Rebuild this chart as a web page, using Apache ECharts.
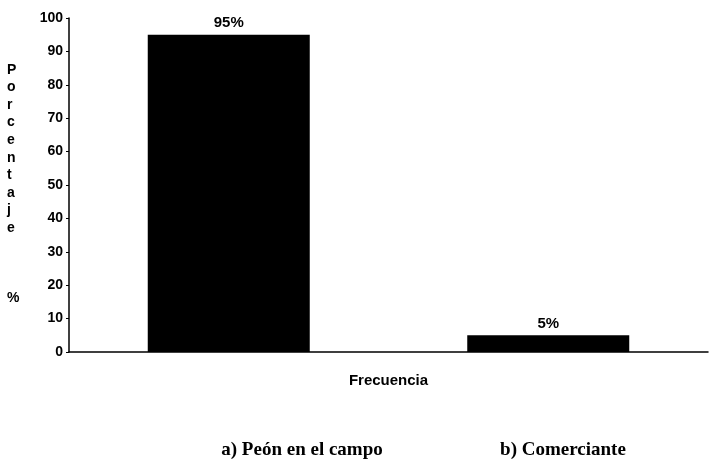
<!DOCTYPE html>
<html>
<head>
<meta charset="utf-8">
<script src="https://cdn.jsdelivr.net/npm/echarts@6/dist/echarts.min.js"></script>
<style>html,body{margin:0;padding:0;background:#fff}#c{width:709px;height:465px}</style>
</head>
<body>
<div id="c"></div>
<script>
const categories = ['a) Peón en el campo', 'b) Comerciante'];
const values = [95, 5];
const valueLabels = ['95%', '5%'];
const yTicks = [0, 10, 20, 30, 40, 50, 60, 70, 80, 90, 100];
const yName = 'Porcentaje';
const yUnit = '%';
const xName = 'Frecuencia';

const chart = echarts.init(document.getElementById('c'));
const catLabelX = [302, 563];
chart.setOption({
  animation: false,
  backgroundColor: '#fff',
  grid: { left: 69, right: 1, top: 18, bottom: 113, containLabel: false },
  xAxis: {
    type: 'category',
    data: categories,
    axisLine: { lineStyle: { color: '#000', width: 1.5 } },
    axisTick: { show: false },
    axisLabel: { show: false },
    name: xName,
    nameLocation: 'middle',
    nameGap: 21,
    nameTextStyle: { color: '#000', fontFamily: 'Liberation Sans', fontWeight: 'bold', fontSize: 15 }
  },
  yAxis: {
    type: 'value',
    min: yTicks[0],
    max: yTicks[yTicks.length - 1],
    interval: 10,
    axisLine: { show: true, lineStyle: { color: '#000', width: 1.5 } },
    axisTick: { show: true, length: 3, lineStyle: { color: '#000' } },
    splitLine: { show: false },
    axisLabel: { color: '#000', fontFamily: 'Liberation Sans', fontWeight: 'bold', fontSize: 14, margin: 6 }
  },
  series: [{
    type: 'bar',
    data: values,
    barWidth: 162,
    itemStyle: { color: '#000' },
    label: {
      show: true,
      position: 'top',
      distance: 4,
      color: '#000',
      fontFamily: 'Liberation Sans',
      fontWeight: 'bold',
      fontSize: 15,
      formatter: p => valueLabels[p.dataIndex]
    }
  }],
  graphic: [
    {
      type: 'text', left: 7, top: 61,
      style: {
        text: yName.split('').join('\n') + '\n\n\n\n' + yUnit,
        fill: '#000', fontFamily: 'Liberation Sans', fontWeight: 'bold', fontSize: 14,
        lineHeight: 17.6, align: 'center', width: 14
      }
    }
  ].concat(categories.map((c, i) => ({
    type: 'text', x: catLabelX[i], y: 450,
    style: {
      text: c, fill: '#000', fontFamily: 'Liberation Serif', fontWeight: 'bold', fontSize: 19,
      textAlign: 'center', textVerticalAlign: 'middle'
    }
  })))
});
</script>
</body>
</html>
